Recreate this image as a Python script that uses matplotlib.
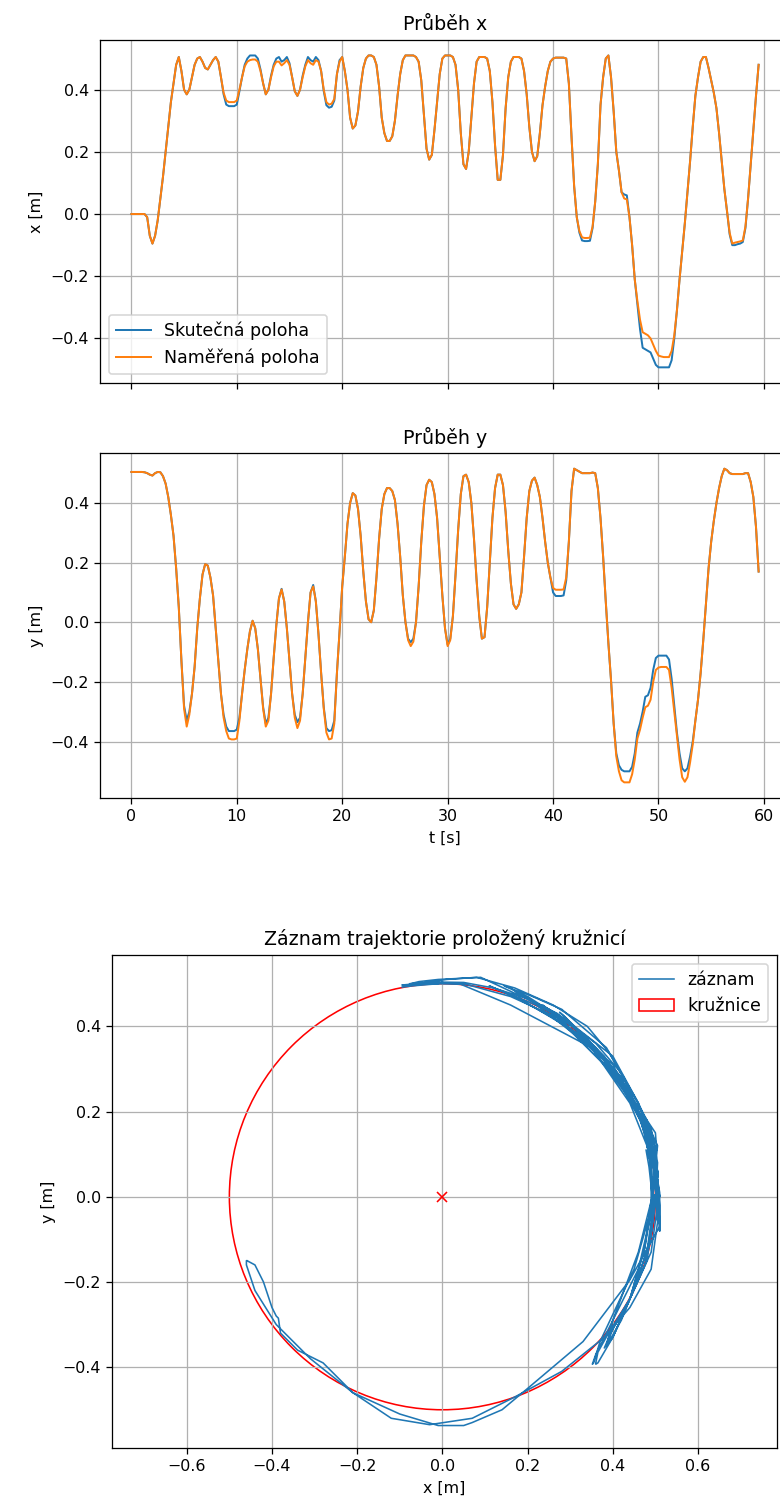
import numpy as np
import matplotlib.pyplot as plt
from matplotlib.patches import Circle

# vzorkovani zaznamu [s]
dt = 0.25

# prubeh x [m] - skutecna a namerena poloha (vzorky po 0.25 s)
x_skut = [
    0.000, 0.000, 0.000, 0.000, 0.000, 0.000, -0.010, -0.070,
    -0.095, -0.070, -0.020, 0.050, 0.120, 0.200, 0.280, 0.360,
    0.420, 0.480, 0.505, 0.460, 0.400, 0.385, 0.400, 0.440,
    0.480, 0.500, 0.505, 0.490, 0.470, 0.465, 0.480, 0.495,
    0.505, 0.490, 0.440, 0.385, 0.352, 0.347, 0.347, 0.347,
    0.352, 0.395, 0.440, 0.480, 0.500, 0.510, 0.510, 0.510,
    0.500, 0.465, 0.420, 0.385, 0.400, 0.445, 0.480, 0.500,
    0.505, 0.490, 0.495, 0.505, 0.485, 0.440, 0.395, 0.380,
    0.400, 0.445, 0.480, 0.505, 0.495, 0.490, 0.505, 0.495,
    0.460, 0.395, 0.350, 0.342, 0.345, 0.365, 0.450, 0.495,
    0.505, 0.460, 0.400, 0.310, 0.275, 0.285, 0.330, 0.410,
    0.470, 0.500, 0.510, 0.510, 0.505, 0.480, 0.410, 0.310,
    0.260, 0.235, 0.235, 0.250, 0.300, 0.380, 0.450, 0.495,
    0.510, 0.510, 0.510, 0.510, 0.505, 0.490, 0.430, 0.320,
    0.210, 0.175, 0.190, 0.270, 0.360, 0.450, 0.500, 0.510,
    0.510, 0.510, 0.505, 0.480, 0.400, 0.260, 0.160, 0.145,
    0.200, 0.310, 0.420, 0.490, 0.505, 0.505, 0.505, 0.500,
    0.460, 0.360, 0.220, 0.110, 0.110, 0.190, 0.340, 0.440,
    0.490, 0.505, 0.505, 0.505, 0.500, 0.460, 0.385, 0.280,
    0.200, 0.170, 0.186, 0.260, 0.350, 0.410, 0.460, 0.490,
    0.500, 0.503, 0.503, 0.503, 0.503, 0.500, 0.420, 0.250,
    0.090, -0.010, -0.060, -0.085, -0.087, -0.087, -0.086, -0.045,
    0.040, 0.160, 0.350, 0.440, 0.500, 0.510, 0.440, 0.330,
    0.200, 0.140, 0.070, 0.063, 0.060, -0.010, -0.100, -0.210,
    -0.290, -0.370, -0.430, -0.435, -0.440, -0.445, -0.465, -0.485,
    -0.493, -0.493, -0.493, -0.493, -0.493, -0.470, -0.400, -0.310,
    -0.210, -0.120, -0.030, 0.070, 0.170, 0.280, 0.380, 0.440,
    0.490, 0.505, 0.505, 0.470, 0.430, 0.390, 0.340, 0.260,
    0.170, 0.080, 0.010, -0.065, -0.100, -0.100, -0.097, -0.095,
    -0.090, -0.045, 0.050, 0.160, 0.270, 0.380, 0.480]

x_mer = [
    0.000, 0.000, 0.000, 0.000, 0.000, 0.000, -0.010, -0.070,
    -0.095, -0.070, -0.020, 0.050, 0.120, 0.200, 0.280, 0.360,
    0.420, 0.480, 0.505, 0.460, 0.400, 0.385, 0.400, 0.440,
    0.480, 0.500, 0.505, 0.490, 0.470, 0.465, 0.480, 0.495,
    0.505, 0.490, 0.440, 0.390, 0.365, 0.360, 0.360, 0.360,
    0.365, 0.400, 0.440, 0.475, 0.490, 0.495, 0.497, 0.497,
    0.490, 0.460, 0.420, 0.385, 0.400, 0.440, 0.475, 0.490,
    0.490, 0.478, 0.485, 0.495, 0.480, 0.440, 0.395, 0.380,
    0.400, 0.440, 0.475, 0.495, 0.485, 0.480, 0.495, 0.490,
    0.460, 0.400, 0.360, 0.352, 0.355, 0.370, 0.450, 0.490,
    0.505, 0.460, 0.400, 0.310, 0.275, 0.285, 0.330, 0.410,
    0.470, 0.500, 0.510, 0.510, 0.505, 0.480, 0.410, 0.310,
    0.260, 0.235, 0.235, 0.250, 0.300, 0.380, 0.450, 0.495,
    0.510, 0.510, 0.510, 0.510, 0.505, 0.490, 0.430, 0.320,
    0.210, 0.175, 0.190, 0.270, 0.360, 0.450, 0.500, 0.510,
    0.510, 0.510, 0.505, 0.480, 0.400, 0.260, 0.160, 0.145,
    0.200, 0.310, 0.420, 0.490, 0.505, 0.505, 0.505, 0.500,
    0.460, 0.360, 0.220, 0.110, 0.110, 0.190, 0.340, 0.440,
    0.490, 0.505, 0.505, 0.505, 0.500, 0.460, 0.385, 0.280,
    0.200, 0.170, 0.186, 0.260, 0.350, 0.410, 0.460, 0.490,
    0.500, 0.503, 0.503, 0.503, 0.503, 0.500, 0.420, 0.250,
    0.090, -0.010, -0.055, -0.075, -0.077, -0.077, -0.076, -0.040,
    0.040, 0.160, 0.350, 0.440, 0.500, 0.510, 0.440, 0.330,
    0.200, 0.140, 0.070, 0.050, 0.047, -0.010, -0.100, -0.210,
    -0.280, -0.340, -0.380, -0.385, -0.390, -0.400, -0.420, -0.440,
    -0.455, -0.458, -0.460, -0.460, -0.460, -0.440, -0.390, -0.310,
    -0.210, -0.120, -0.030, 0.070, 0.170, 0.280, 0.380, 0.440,
    0.490, 0.505, 0.505, 0.470, 0.430, 0.390, 0.340, 0.260,
    0.170, 0.080, 0.010, -0.060, -0.095, -0.092, -0.090, -0.088,
    -0.085, -0.040, 0.050, 0.160, 0.270, 0.380, 0.480]

# prubeh y [m]
y_skut = [
    0.504, 0.504, 0.504, 0.504, 0.504, 0.503, 0.500, 0.495,
    0.492, 0.500, 0.504, 0.503, 0.490, 0.465, 0.420, 0.360,
    0.290, 0.180, 0.050, -0.130, -0.280, -0.330, -0.300, -0.240,
    -0.150, -0.020, 0.080, 0.160, 0.195, 0.190, 0.150, 0.090,
    -0.020, -0.130, -0.240, -0.310, -0.350, -0.365, -0.365, -0.365,
    -0.360, -0.320, -0.240, -0.160, -0.090, -0.030, 0.005, -0.020,
    -0.090, -0.190, -0.285, -0.340, -0.320, -0.240, -0.120, -0.010,
    0.080, 0.112, 0.070, -0.020, -0.130, -0.240, -0.310, -0.335,
    -0.320, -0.240, -0.120, 0.000, 0.100, 0.125, 0.070, -0.040,
    -0.170, -0.285, -0.355, -0.365, -0.362, -0.330, -0.170, -0.030,
    0.120, 0.220, 0.330, 0.400, 0.433, 0.425, 0.380, 0.290,
    0.170, 0.070, 0.010, 0.000, 0.040, 0.150, 0.280, 0.380,
    0.430, 0.450, 0.450, 0.440, 0.410, 0.330, 0.220, 0.090,
    0.000, -0.055, -0.067, -0.055, 0.000, 0.120, 0.270, 0.390,
    0.460, 0.478, 0.470, 0.430, 0.350, 0.220, 0.090, -0.020,
    -0.075, -0.055, 0.020, 0.160, 0.310, 0.430, 0.490, 0.495,
    0.470, 0.400, 0.280, 0.140, 0.020, -0.055, -0.050, 0.050,
    0.200, 0.350, 0.450, 0.495, 0.495, 0.460, 0.370, 0.240,
    0.130, 0.060, 0.045, 0.060, 0.100, 0.220, 0.350, 0.440,
    0.475, 0.485, 0.460, 0.420, 0.350, 0.270, 0.200, 0.150,
    0.100, 0.088, 0.088, 0.088, 0.090, 0.140, 0.270, 0.440,
    0.515, 0.510, 0.505, 0.500, 0.500, 0.500, 0.500, 0.502,
    0.500, 0.450, 0.350, 0.220, 0.070, -0.070, -0.195, -0.340,
    -0.440, -0.480, -0.495, -0.500, -0.500, -0.500, -0.485, -0.440,
    -0.370, -0.340, -0.300, -0.250, -0.245, -0.220, -0.160, -0.120,
    -0.112, -0.112, -0.112, -0.112, -0.125, -0.190, -0.280, -0.370,
    -0.440, -0.490, -0.500, -0.490, -0.450, -0.400, -0.330, -0.260,
    -0.170, -0.060, 0.060, 0.180, 0.270, 0.340, 0.400, 0.450,
    0.490, 0.515, 0.510, 0.500, 0.497, 0.497, 0.497, 0.497,
    0.497, 0.500, 0.500, 0.470, 0.420, 0.320, 0.170]

y_mer = [
    0.504, 0.504, 0.504, 0.504, 0.504, 0.503, 0.500, 0.495,
    0.492, 0.500, 0.504, 0.503, 0.490, 0.465, 0.420, 0.360,
    0.290, 0.180, 0.050, -0.130, -0.290, -0.350, -0.310, -0.240,
    -0.150, -0.020, 0.080, 0.160, 0.195, 0.190, 0.150, 0.090,
    -0.020, -0.130, -0.240, -0.320, -0.365, -0.390, -0.393, -0.393,
    -0.390, -0.330, -0.240, -0.160, -0.090, -0.030, 0.005, -0.020,
    -0.090, -0.190, -0.290, -0.350, -0.330, -0.240, -0.120, -0.010,
    0.080, 0.110, 0.070, -0.020, -0.130, -0.240, -0.320, -0.355,
    -0.330, -0.240, -0.120, 0.000, 0.100, 0.120, 0.070, -0.040,
    -0.170, -0.290, -0.370, -0.393, -0.390, -0.340, -0.170, -0.030,
    0.120, 0.220, 0.330, 0.400, 0.433, 0.425, 0.380, 0.290,
    0.170, 0.070, 0.010, 0.000, 0.040, 0.150, 0.280, 0.380,
    0.430, 0.450, 0.450, 0.440, 0.410, 0.330, 0.220, 0.090,
    0.000, -0.060, -0.080, -0.065, 0.000, 0.120, 0.270, 0.390,
    0.460, 0.478, 0.470, 0.430, 0.350, 0.220, 0.090, -0.020,
    -0.080, -0.060, 0.020, 0.160, 0.310, 0.430, 0.490, 0.495,
    0.470, 0.400, 0.280, 0.140, 0.020, -0.055, -0.050, 0.050,
    0.200, 0.350, 0.450, 0.495, 0.495, 0.460, 0.370, 0.240,
    0.130, 0.060, 0.045, 0.060, 0.100, 0.220, 0.350, 0.440,
    0.475, 0.485, 0.460, 0.420, 0.350, 0.270, 0.200, 0.150,
    0.115, 0.109, 0.109, 0.109, 0.110, 0.150, 0.270, 0.440,
    0.515, 0.510, 0.505, 0.500, 0.500, 0.500, 0.500, 0.502,
    0.500, 0.450, 0.350, 0.220, 0.070, -0.070, -0.195, -0.340,
    -0.450, -0.500, -0.530, -0.537, -0.537, -0.537, -0.510, -0.460,
    -0.390, -0.360, -0.320, -0.285, -0.280, -0.260, -0.200, -0.160,
    -0.152, -0.150, -0.150, -0.150, -0.160, -0.220, -0.300, -0.380,
    -0.460, -0.520, -0.535, -0.520, -0.470, -0.410, -0.330, -0.260,
    -0.170, -0.060, 0.060, 0.180, 0.270, 0.340, 0.400, 0.450,
    0.490, 0.515, 0.510, 0.500, 0.497, 0.497, 0.497, 0.497,
    0.497, 0.500, 0.500, 0.470, 0.420, 0.320, 0.170]

t = np.arange(len(x_mer)) * dt

# prolozena kruznice
stred = (0.0, 0.0)
polomer = 0.5

DPI = 114
fig = plt.figure(figsize=(780 / DPI, 1510 / DPI), dpi=DPI)
ax1 = fig.add_axes([0.1282, 0.7464, 0.8846, 0.2272])
ax2 = fig.add_axes([0.1282, 0.4715, 0.8846, 0.2285], sharex=ax1)
ax3 = fig.add_axes([0.1436, 0.0411, 0.8526, 0.3265])

# x
ax1.plot(t, x_skut, lw=1.25, label='Skutečná poloha')
ax1.plot(t, x_mer, lw=1.25, label='Naměřená poloha')
ax1.set_title('Průběh x')
ax1.set_ylabel('x [m]')
ax1.grid(True)
ax1.legend(loc='lower left', fontsize=11)
ax1.tick_params(labelbottom=False)

# y
ax2.plot(t, y_skut, lw=1.25)
ax2.plot(t, y_mer, lw=1.25)
ax2.set_title('Průběh y')
ax2.set_ylabel('y [m]')
ax2.set_xlabel('t [s]')
ax2.grid(True)

# trajektorie + kruznice
ax3.plot(x_mer, y_mer, lw=1, label='záznam')
ax3.add_patch(Circle(stred, polomer, fill=False, color='r', label='kružnice'))
ax3.plot(stred[0], stred[1], 'rx')
ax3.axis('equal')
ax3.set_title('Záznam trajektorie proložený kružnicí')
ax3.set_xlabel('x [m]')
ax3.set_ylabel('y [m]')
ax3.grid(True)
ax3.legend(loc='upper right', fontsize=11)

plt.savefig('out.png', dpi=DPI)
